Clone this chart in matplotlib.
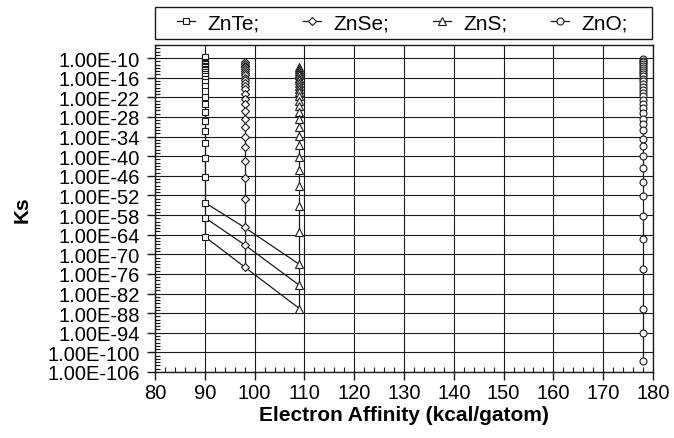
import matplotlib.pyplot as plt
from matplotlib.ticker import FixedLocator, NullFormatter
from matplotlib.patches import Rectangle
import numpy as np

plt.rcParams['font.family'] = ['Liberation Sans', 'DejaVu Sans']

# electron affinity of each compound (kcal/gatom)
x_znte = 90
x_znse = 98
x_zns = 109
x_zno = 178

# log10(Ks)
log_znte = [-9.6, -11.2, -11.5, -11.9, -12.3, -12.7, -13.2, -13.7, -14.3, -14.9,
            -15.6, -16.4, -17.3, -18.6, -20.0, -21.9, -24.1, -26.5, -29.2, -32.4,
            -36.1, -40.7, -46.5, -54.2, -58.8, -64.6]
log_znse = [-11.3, -11.8, -12.3, -12.8, -13.4, -14.0, -14.6, -15.3, -16.0, -16.8,
            -17.6, -18.5, -19.6, -21.0, -22.5, -24.1, -26.1, -28.7, -31.2, -34.0,
            -37.3, -41.4, -46.7, -53.2, -61.8, -67.1, -73.9]
log_zns = [-12.8, -13.4, -14.0, -14.6, -15.3, -16.0, -16.8, -17.6, -18.5, -19.5,
           -20.5, -21.5, -23.1, -24.6, -26.4, -28.7, -31.2, -33.8, -36.6, -40.1,
           -44.2, -49.1, -55.2, -63.2, -73.1, -79.5, -86.6]
log_zno = [-10.3, -10.8, -11.3, -11.8, -12.4, -13.0, -13.6, -14.2, -14.9, -15.6,
           -16.3, -17.1, -17.9, -18.8, -19.7, -20.7, -21.7, -22.8, -24.0, -25.3,
           -26.8, -28.7, -30.2, -31.9, -34.8, -37.0, -39.9, -43.5, -47.9, -52.1,
           -58.3, -65.4, -74.6, -86.6, -94.0, -102.7]

# diagonal links ZnTe -> ZnSe -> ZnS
link_x = [x_znte, x_znse, x_zns]
link_logs = [[-54.2, -61.8, -73.1],
             [-58.8, -67.1, -79.5],
             [-64.6, -73.9, -86.6]]

labels = ['ZnTe;', 'ZnSe;', 'ZnS;', 'ZnO;']
ytick_exps = list(range(-10, -107, -6))
ytick_labels = ['1.00E%d' % e for e in ytick_exps]

W, H = 674, 439
fig = plt.figure(figsize=(W / 100, H / 100), dpi=100)
ax = fig.add_axes([155 / W, 1 - 373 / H, 498 / W, 327 / H])

series = [(x_znte, log_znte, 's', 4.8),
          (x_znse, log_znse, 'D', 4.0),
          (x_zns, log_zns, '^', 5.2),
          (x_zno, log_zno, 'o', 5.0)]
handles = []
for (xv, logs, mk, ms), lab in zip(series, labels):
    ys = 10.0 ** np.array(logs)
    h, = ax.plot([xv] * len(ys), ys, color='#1a1a1a', lw=0.9, marker=mk, ms=ms,
                 mfc='white', mec='#1a1a1a', mew=0.8, label=lab, zorder=4)
    handles.append(h)

for logs in link_logs:
    ax.plot(link_x, 10.0 ** np.array(logs), color='#1a1a1a', lw=0.9, zorder=3)

ax.set_yscale('log')
ax.set_xlim(80, 180)
ax.set_ylim(1e-106, 1e-6)

ax.set_xticks(range(80, 181, 10))
ax.xaxis.set_minor_locator(FixedLocator(np.arange(80, 181, 2)))
ax.yaxis.set_major_locator(FixedLocator([10.0 ** e for e in ytick_exps]))
ax.set_yticklabels(ytick_labels)
ax.yaxis.set_minor_locator(FixedLocator([10.0 ** e for e in range(-106, -5)]))
ax.yaxis.set_minor_formatter(NullFormatter())

ax.tick_params(which='major', direction='out', length=6, width=1, labelsize=14.5,
               color='#1a1a1a')
ax.tick_params(axis='y', which='major', pad=5)
ax.tick_params(axis='x', which='major', pad=2)
ax.tick_params(which='minor', direction='in', length=3.5, width=0.8, color='#1a1a1a')

ax.grid(True, which='major', color='#1a1a1a', lw=0.8)
ax.set_axisbelow(True)
for s in ax.spines.values():
    s.set_color('#1a1a1a')
    s.set_linewidth(1.0)

ax.set_xlabel('Electron Affinity (kcal/gatom)', fontsize=15, fontweight='bold')
ax.xaxis.set_label_coords(0.5, -(406 - 373) / 327)
ax.set_ylabel('Ks', fontsize=15, fontweight='bold')
ax.yaxis.set_label_coords((32 - 155) / 498, 0.5)

# legend frame spans the plot width, entries sit inside it
fig.add_artist(Rectangle((155 / W, 1 - 40 / H), 497 / W, 32 / H, transform=fig.transFigure,
                         fill=False, edgecolor='#1a1a1a', lw=1.0))
fig.legend(handles=handles, loc='center left', ncol=4,
           bbox_to_anchor=(177 / W, 1 - 24 / H),
           fontsize=15, frameon=False, handlelength=0.87,
           handletextpad=0.58, borderaxespad=0, borderpad=0,
           columnspacing=2.1)

fig.savefig('out.png', dpi=100)
